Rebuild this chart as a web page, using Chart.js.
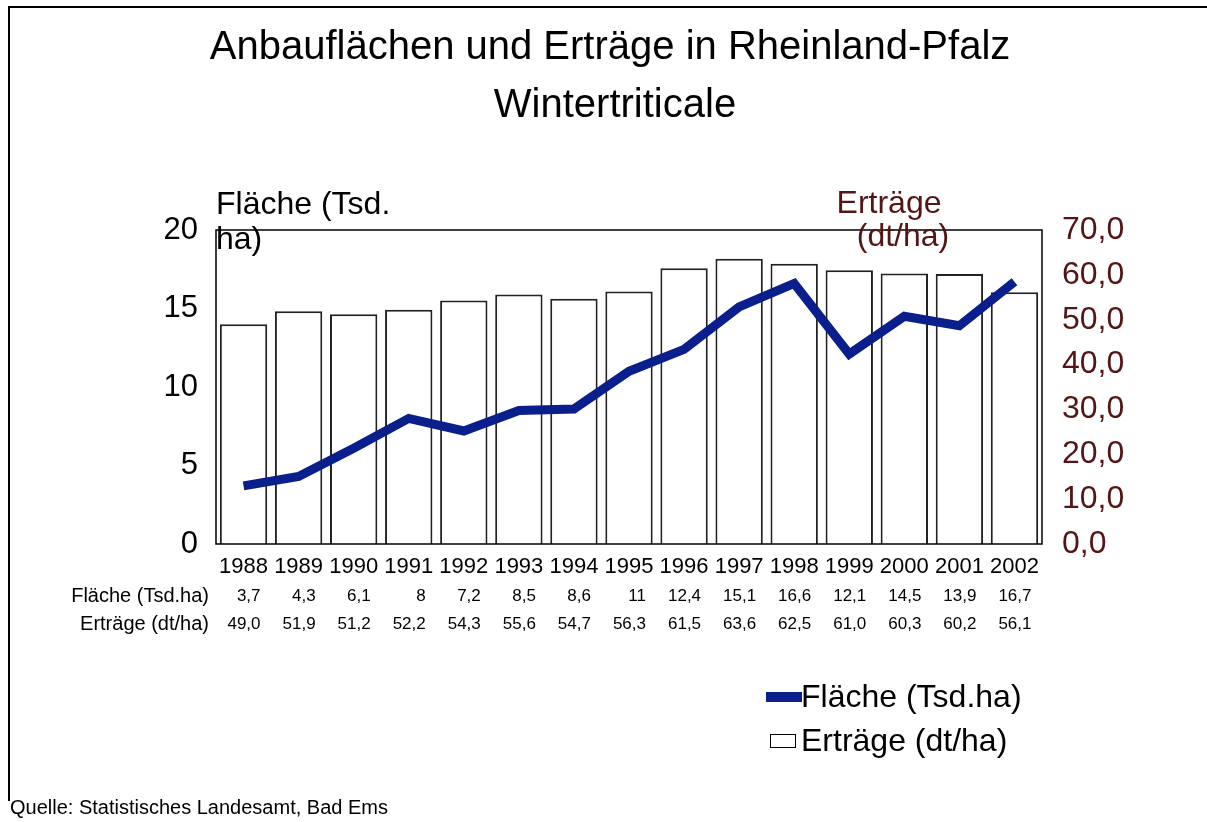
<!DOCTYPE html>
<html>
<head>
<meta charset="utf-8">
<script src="https://cdn.jsdelivr.net/npm/chart.js@4.4.1/dist/chart.umd.min.js"></script>
<style>
  html, body { margin: 0; padding: 0; background: #fff; }
  #wrap { position: relative; width: 1207px; height: 822px; overflow: hidden; font-family: "Liberation Sans", Arial, sans-serif; }
  canvas { position: absolute; left: 0; top: 0; }
  .t { position: absolute; white-space: nowrap; color: #000; }
  .frameL { position: absolute; left: 8px; top: 6px; width: 2px; height: 795px; background: #000; }
  .frameT { position: absolute; left: 8px; top: 6px; width: 1199px; height: 2px; background: #000; }
</style>
</head>
<body>
<div id="wrap">
  <canvas id="c" width="1207" height="822"></canvas>
  <div class="frameL"></div>
  <div class="frameT"></div>
  <div class="t" style="left:0;width:1220px;text-align:center;top:25px;font-size:40px;line-height:40px;">Anbauflächen und Erträge in Rheinland-Pfalz</div>
  <div class="t" style="left:0;width:1230px;text-align:center;top:83px;font-size:40px;line-height:40px;">Wintertriticale</div>
  <div class="t" style="left:216px;top:186px;font-size:32px;line-height:35px;">Fläche (Tsd.<br>ha)</div>
  <div class="t" style="left:789px;width:200px;text-align:center;top:186px;font-size:32px;line-height:32px;color:#531515;">Erträge</div>
  <div class="t" style="left:803px;width:200px;text-align:center;top:219px;font-size:32px;line-height:32px;color:#531515;">(dt/ha)</div>
  <div style="position:absolute;left:766px;top:692px;width:36px;height:10px;background:#0a1f8c;"></div>
  <div class="t" style="left:801px;top:680px;font-size:32px;line-height:32px;">Fläche (Tsd.ha)</div>
  <div style="position:absolute;left:770px;top:734px;width:24px;height:12px;border:1.5px solid #000;background:#fff;"></div>
  <div class="t" style="left:801px;top:724px;font-size:32px;line-height:32px;">Erträge (dt/ha)</div>
  <div class="t" style="left:10px;top:797px;font-size:20px;line-height:20px;">Quelle: Statistisches Landesamt, Bad Ems</div>
</div>
<script>
const years = ['1988','1989','1990','1991','1992','1993','1994','1995','1996','1997','1998','1999','2000','2001','2002'];
const flaeche = [3.7, 4.3, 6.1, 8, 7.2, 8.5, 8.6, 11, 12.4, 15.1, 16.6, 12.1, 14.5, 13.9, 16.7];
const ertraege = [49.0, 51.9, 51.2, 52.2, 54.3, 55.6, 54.7, 56.3, 61.5, 63.6, 62.5, 61.0, 60.3, 60.2, 56.1];
const leftTicks = [0, 5, 10, 15, 20];
const rightTicks = [0, 10, 20, 30, 40, 50, 60, 70];
const tableLabels = ['Fläche (Tsd.ha)', 'Erträge (dt/ha)'];

const FONT = '"Liberation Sans", Arial, sans-serif';
const fmtF = v => String(v).replace('.', ',');
const fmtE = v => v.toFixed(1).replace('.', ',');

const extras = {
  id: 'extras',
  afterDraw(chart) {
    const ctx = chart.ctx;
    const a = chart.chartArea;
    const xs = chart.scales.x;
    ctx.save();
    ctx.strokeStyle = '#000';
    ctx.lineWidth = 1.5;
    ctx.strokeRect(a.left, a.top, a.right - a.left, a.bottom - a.top);
    ctx.fillStyle = '#000';
    ctx.textAlign = 'right';
    ctx.textBaseline = 'alphabetic';
    ctx.font = '20px ' + FONT;
    ctx.fillText(tableLabels[0], 209, 602);
    ctx.fillText(tableLabels[1], 209, 630);
    ctx.font = '17px ' + FONT;
    years.forEach((y, i) => {
      const px = xs.getPixelForValue(i) + 17;
      ctx.fillText(fmtF(flaeche[i]), px, 601);
      ctx.fillText(fmtE(ertraege[i]), px, 629);
    });
    ctx.restore();
  }
};

new Chart(document.getElementById('c'), {
  data: {
    labels: years,
    datasets: [
      {
        type: 'line',
        label: 'Fläche (Tsd.ha)',
        data: flaeche,
        yAxisID: 'y',
        borderColor: '#0a1f8c',
        backgroundColor: '#0a1f8c',
        borderWidth: 9,
        pointRadius: 0,
        tension: 0,
        borderJoinStyle: 'miter',
        order: 0
      },
      {
        type: 'bar',
        label: 'Erträge (dt/ha)',
        data: ertraege,
        yAxisID: 'y1',
        backgroundColor: '#ffffff',
        borderColor: '#222',
        borderWidth: 2,
        categoryPercentage: 1,
        barPercentage: 0.86,
        order: 1
      }
    ]
  },
  options: {
    responsive: false,
    animation: false,
    devicePixelRatio: 1,
    layout: { padding: { top: 230, left: 0, right: 0, bottom: 0 } },
    plugins: { legend: { display: false }, tooltip: { enabled: false }, title: { display: false } },
    scales: {
      x: {
        type: 'category',
        grid: { display: false, drawTicks: false },
        border: { display: false },
        ticks: { color: '#000', font: { family: FONT, size: 22 }, padding: 10, autoSkip: false, maxRotation: 0 },
        afterFit(s) { s.height = 278; }
      },
      y: {
        position: 'left',
        min: 0, max: 20,
        afterBuildTicks(s) { s.ticks = leftTicks.map(v => ({ value: v })); },
        grid: { display: false, drawTicks: false },
        border: { display: false },
        ticks: { color: '#000', font: { family: FONT, size: 31 }, padding: 18 },
        afterFit(s) { s.width = 216; }
      },
      y1: {
        position: 'right',
        min: 0, max: 70,
        afterBuildTicks(s) { s.ticks = rightTicks.map(v => ({ value: v })); },
        grid: { display: false, drawTicks: false },
        border: { display: false },
        ticks: { color: '#531515', font: { family: FONT, size: 32 }, padding: 20, callback: v => fmtE(v) },
        afterFit(s) { s.width = 165; }
      }
    }
  },
  plugins: [extras]
});
</script>
</body>
</html>
